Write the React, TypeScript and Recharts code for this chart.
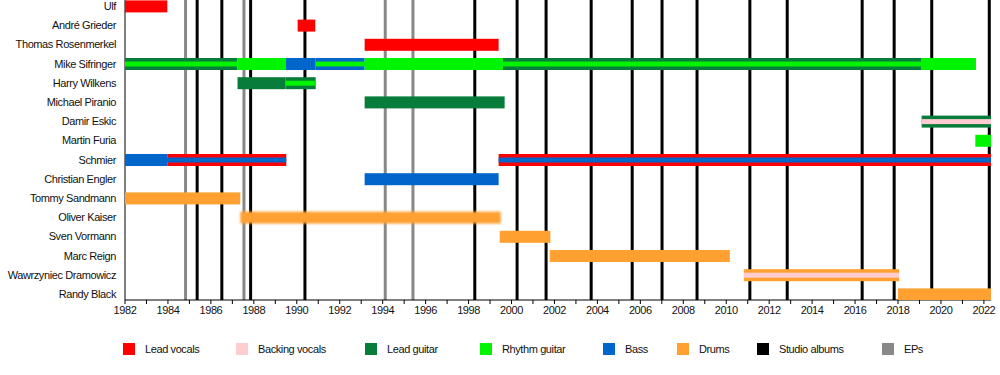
import React from 'react';
import { BarChart, Bar, XAxis, YAxis, ReferenceLine } from 'recharts';

// ---------- data ----------
const members = [
  'Ulf',
  'André Grieder',
  'Thomas Rosenmerkel',
  'Mike Sifringer',
  'Harry Wilkens',
  'Michael Piranio',
  'Damir Eskic',
  'Martin Furia',
  'Schmier',
  'Christian Engler',
  'Tommy Sandmann',
  'Oliver Kaiser',
  'Sven Vormann',
  'Marc Reign',
  'Wawrzyniec Dramowicz',
  'Randy Black',
];

// [start, end, main role, stripe role]
type Seg = [number, number, string, string?];

const ulf: Seg[] = [[1982, 1983.97, 'vocals']];
const andre: Seg[] = [[1990.04, 1990.86, 'vocals']];
const thomas: Seg[] = [[1993.16, 1999.4, 'vocals']];
const mike: Seg[] = [
  [1982, 1987.24, 'lead', 'rhythm'],
  [1987.24, 1989.48, 'rhythm'],
  [1989.48, 1990.88, 'bass'],
  [1990.88, 1993.16, 'bass', 'rhythm'],
  [1993.16, 1999.6, 'rhythm'],
  [1999.6, 2019.1, 'lead', 'rhythm'],
  [2019.1, 2021.63, 'rhythm'],
];
const harry: Seg[] = [
  [1987.24, 1989.48, 'lead'],
  [1989.48, 1990.88, 'lead', 'rhythm'],
];
const michael: Seg[] = [[1993.16, 1999.68, 'lead']];
const damir: Seg[] = [[2019.1, 2022.33, 'lead', 'backing']];
const martin: Seg[] = [[2021.6, 2022.33, 'rhythm']];
const schmier: Seg[] = [
  [1982, 1983.97, 'bass'],
  [1983.97, 1989.51, 'vocals', 'bass'],
  [1999.4, 2022.33, 'vocals', 'bass'],
];
const christian: Seg[] = [[1993.16, 1999.4, 'bass']];
const tommy: Seg[] = [[1982, 1987.37, 'drums']];
const oliver: Seg[] = [[1987.37, 1999.5, 'drums']];
const sven: Seg[] = [[1999.45, 2001.81, 'drums']];
const marc: Seg[] = [[2001.78, 2010.17, 'drums']];
const wawrzyniec: Seg[] = [[2010.82, 2018.05, 'drums', 'backing']];
const randy: Seg[] = [[2018.0, 2022.33, 'drums']];

const tenures: Seg[][] = [
  ulf, andre, thomas, mike, harry, michael, damir, martin,
  schmier, christian, tommy, oliver, sven, marc, wawrzyniec, randy,
];

const studioAlbums = [
  1985.36, 1986.51, 1987.85, 1990.38, 1998.29, 2000.26, 2001.61, 2003.71,
  2005.62, 2007.01, 2008.64, 2011.1, 2012.84, 2016.33, 2017.82, 2019.57, 2022.25,
];
const eps = [1984.82, 1987.54, 1994.12, 1995.41];

const yearTicks = [
  1982, 1983, 1984, 1985, 1986, 1987, 1988, 1989, 1990, 1991, 1992, 1993, 1994,
  1995, 1996, 1997, 1998, 1999, 2000, 2001, 2002, 2003, 2004, 2005, 2006, 2007,
  2008, 2009, 2010, 2011, 2012, 2013, 2014, 2015, 2016, 2017, 2018, 2019, 2020,
  2021, 2022,
];
const timeDomain: [number, number] = [1982, 2022.33];

const legendLabels = [
  'Lead vocals', 'Backing vocals', 'Lead guitar', 'Rhythm guitar',
  'Bass', 'Drums', 'Studio albums', 'EPs',
];
const legendKeys = ['vocals', 'backing', 'lead', 'rhythm', 'bass', 'drums', 'studio', 'ep'];

// ---------- styles ----------
const colors: Record<string, string> = {
  vocals: '#FF0000',
  backing: '#FFCCD0',
  lead: '#087C3A',
  rhythm: '#00F400',
  bass: '#0066CC',
  drums: '#FFA030',
  studio: '#000000',
  ep: '#888888',
};
const legendX = [123, 236, 365, 480, 603, 677, 757, 882];
// vertical layout: numeric Y axis runs top -> bottom
const rowDomain: [number, number] = [-0.3125, 15.3125];

// ---------- build chart table (Gantt-style stacked slots) ----------
const slotCount = Math.max(
  ...tenures.map((segs) => {
    let c = 0;
    let cur = 0;
    segs.forEach(([s, e]) => {
      if (s > cur + 1e-9) c++;
      c++;
      cur = e;
    });
    return c;
  })
);

const rows = members.map((name, i) => {
  const row: any = { row: i, name };
  let cursor = 0;
  let k = 0;
  tenures[i].forEach(([s, e, role, stripe]) => {
    if (s > cursor + 1e-9) {
      row[`v${k}`] = s - cursor;
      row[`r${k}`] = null;
      k++;
    }
    row[`v${k}`] = e - s;
    row[`r${k}`] = { role, stripe };
    k++;
    cursor = e;
  });
  for (; k < slotCount; k++) {
    row[`v${k}`] = 0;
    row[`r${k}`] = null;
  }
  return row;
});

const rowTicks = members.map((_, i) => i);
const slots = Array.from({ length: slotCount }, (_, k) => k);

const makeShape = (k: number) => (props: any) => {
  const { x, y, width, height, payload } = props;
  const seg = payload ? payload[`r${k}`] : null;
  if (!seg || !(width > 0)) return <g />;
  const blurred = payload.name === 'Oliver Kaiser';
  const stripeH = 5;
  return (
    <g>
      {blurred && (
        <defs>
          <filter id="softBar" x="-5%" y="-60%" width="110%" height="220%">
            <feGaussianBlur stdDeviation="1.3" />
          </filter>
        </defs>
      )}
      <rect
        x={x}
        y={y}
        width={width}
        height={height}
        fill={colors[seg.role]}
        filter={blurred ? 'url(#softBar)' : undefined}
      />
      {seg.stripe && (
        <rect
          x={x}
          y={y + (height - stripeH) / 2}
          width={width}
          height={stripeH}
          fill={colors[seg.stripe]}
        />
      )}
    </g>
  );
};

const NameTick = (props: any) => {
  const { x, y, payload } = props;
  return (
    <text x={x} y={y} dy="0.36em" textAnchor="end" fill="#111" fontSize={11}>
      {members[payload.value]}
    </text>
  );
};

const fontFamily = '"Liberation Sans", Arial, Helvetica, sans-serif';
const chartMargin = { top: 0, right: 9, bottom: 0, left: 0 };

const layer: React.CSSProperties = { position: 'absolute', left: 0, top: 0 };

export default function App() {
  return (
    <div
      style={{
        position: 'absolute',
        left: 0,
        top: 0,
        width: 1000,
        height: 375,
        background: '#fff',
        fontFamily,
        letterSpacing: '-0.4px',
      }}
    >
      {/* bottom layer: axes and album lines */}
      <div style={layer}>
        <BarChart width={1000} height={375} data={rows} layout="vertical" margin={chartMargin}>
          <XAxis
            type="number"
            domain={timeDomain}
            allowDataOverflow
            ticks={yearTicks}
            interval={0}
            tickFormatter={(v: number) => (v % 2 === 0 ? String(v) : '')}
            tickSize={4}
            tickMargin={2}
            height={75}
            axisLine={{ stroke: '#000' }}
            tickLine={{ stroke: '#000' }}
            tick={{ fill: '#111', fontSize: 11 }}
          />
          <YAxis
            type="number"
            dataKey="row"
            domain={rowDomain}
            allowDataOverflow
            ticks={rowTicks}
            interval={0}
            width={125}
            tickSize={0}
            tickMargin={9}
            axisLine={{ stroke: '#000' }}
            tickLine={false}
            tick={<NameTick />}
          />
          {eps.map((yr) => (
            <ReferenceLine key={`ep${yr}`} x={yr} stroke={colors.ep} strokeWidth={3} />
          ))}
          {studioAlbums.map((yr) => (
            <ReferenceLine key={`sa${yr}`} x={yr} stroke={colors.studio} strokeWidth={3} />
          ))}
        </BarChart>
      </div>
      {/* top layer: tenure bars */}
      <div style={layer}>
        <BarChart width={1000} height={375} data={rows} layout="vertical" margin={chartMargin}>
          <XAxis
            type="number"
            domain={timeDomain}
            allowDataOverflow
            ticks={yearTicks}
            height={75}
            axisLine={false}
            tickLine={false}
            tick={false}
          />
          <YAxis
            type="number"
            dataKey="row"
            domain={rowDomain}
            allowDataOverflow
            ticks={rowTicks}
            width={125}
            axisLine={false}
            tickLine={false}
            tick={false}
          />
          {slots.map((k) => (
            <Bar
              key={`slot${k}`}
              dataKey={`v${k}`}
              stackId="tenure"
              barSize={12}
              isAnimationActive={false}
              shape={makeShape(k)}
            />
          ))}
        </BarChart>
      </div>
      {legendLabels.map((label, i) => (
        <div key={label}>
          <div
            style={{
              position: 'absolute',
              left: legendX[i],
              top: 343,
              width: 12,
              height: 12,
              background: colors[legendKeys[i]],
            }}
          />
          <div
            style={{
              position: 'absolute',
              left: legendX[i] + 22,
              top: 341,
              height: 16,
              lineHeight: '16px',
              fontSize: 11,
              color: '#111',
              whiteSpace: 'nowrap',
            }}
          >
            {label}
          </div>
        </div>
      ))}
    </div>
  );
}
